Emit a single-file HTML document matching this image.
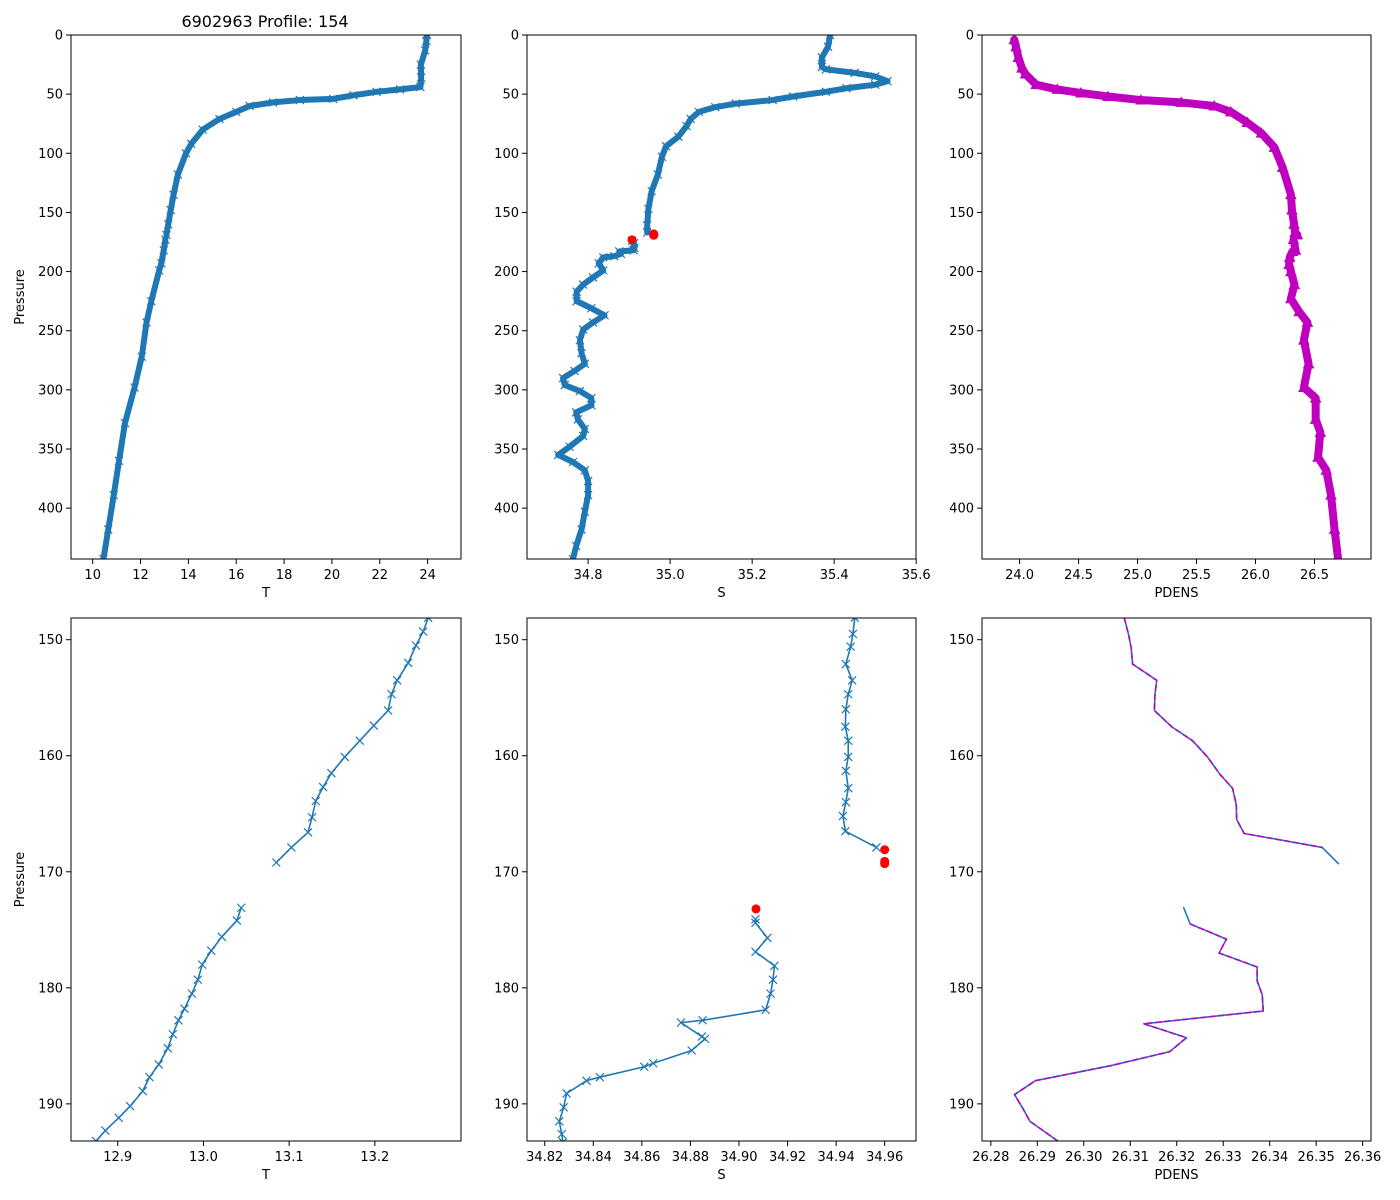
<!DOCTYPE html>
<html><head><meta charset="utf-8"><style>
html,body{margin:0;padding:0;background:#fff;}
svg{display:block;font-family:"DejaVu Sans","Liberation Sans",sans-serif;}
</style></head><body>
<svg id="chart" width="1400" height="1200" viewBox="0 0 1400 1200" xmlns="http://www.w3.org/2000/svg">
<rect width="1400" height="1200" fill="#fff"/>
<text x="265" y="27" font-size="16" text-anchor="middle">6902963 Profile: 154</text>
</svg>
<script>
// ---- top row data ----
const topTPres = [0,5,13,25,36,44,46,48,51,54,55,57,60,65,71,80,92,100,118,135,148,160,169,null,173,182,193,199,225,243,272,298,328,360,389,418,443];
const topTVals = [23.97,23.95,23.9,23.72,23.73,23.7,22.85,21.87,20.9,20.05,18.66,17.54,16.56,16.0,15.3,14.6,14.12,13.9,13.56,13.38,13.26,13.16,13.08,null,13.04,12.97,12.87,12.78,12.45,12.25,12.05,11.75,11.35,11.1,10.88,10.65,10.45];
const topSPres = [0,10,19,27,29,32,35,39,42,45,48,52,55,58,61,65,71,77,86,94,103,118,132,147,161,167,null,174,176,180,182,183,185,187,188,193,199,205,211,217,225,231,237,243,249,258,269,278,284,290,296,301,307,313,319,325,333,339,348,355,361,368,377,389,403,418,432,443];
const topSVals = [35.39,35.385,35.37,35.37,35.38,35.45,35.50,35.53,35.50,35.43,35.38,35.30,35.25,35.16,35.11,35.07,35.05,35.04,35.02,34.99,34.98,34.97,34.955,34.947,34.944,34.944,null,34.907,34.912,34.913,34.911,34.876,34.88,34.864,34.837,34.826,34.837,34.812,34.788,34.772,34.772,34.808,34.84,34.812,34.788,34.78,34.784,34.792,34.767,34.739,34.743,34.78,34.808,34.808,34.771,34.775,34.792,34.788,34.755,34.727,34.763,34.792,34.80,34.80,34.792,34.784,34.771,34.763];
const topDPres = [4,10,19,28,33,42,46,49,52,55,57,60,65,74,83,95,112,135,148,160,167,169,null,173,182,183,188,194,200,211,223,234,243,258,278,298,307,325,336,357,368,389,418,443];
const topDVals = [23.955,23.97,23.99,24.02,24.05,24.14,24.32,24.52,24.75,25.03,25.37,25.65,25.79,25.93,26.05,26.16,26.23,26.30,26.309,26.327,26.335,26.355,null,26.322,26.339,26.313,26.29,26.285,26.30,26.33,26.30,26.37,26.44,26.41,26.45,26.41,26.51,26.51,26.55,26.53,26.60,26.64,26.67,26.70];
const redSPres = [168.1,169.1,169.3,173.2];
const redSVals = [34.96,34.96,34.96,34.907];
// ---- bottom row data ----
const botTPres = [148.1,149.3,150.5,152.0,153.5,154.7,156.1,157.4,158.7,160.1,161.5,162.7,163.9,165.3,166.6,167.9,169.2,null,173.1,174.2,175.6,176.8,178.0,179.3,180.5,181.8,182.8,184.0,185.2,186.6,187.7,188.9,190.2,191.2,192.3,193.2];
const botTVals = [13.2623,13.2564,13.2479,13.2389,13.226,13.2194,13.2155,13.1988,13.1824,13.1649,13.1493,13.1396,13.131,13.1267,13.122,13.1026,13.085,null,13.0441,13.039,13.0215,13.0091,12.9986,12.9935,12.9865,12.9779,12.9709,12.9643,12.9584,12.9479,12.937,12.9292,12.9144,12.9012,12.8856,12.8747];
const botSPres = [148.1,149.5,150.6,152.1,153.5,154.7,156.0,157.5,158.7,160.1,161.3,162.8,164.0,165.2,166.5,167.9,null,174.1,174.4,175.7,176.9,178.1,179.3,180.5,181.9,182.8,183.0,184.2,184.4,185.4,186.5,186.8,187.7,188.0,189.1,190.3,191.5,192.6,193.3];
const botSVals = [34.9477,34.9469,34.946,34.944,34.9466,34.945,34.944,34.9438,34.945,34.945,34.944,34.945,34.944,34.9428,34.9438,34.9566,null,34.9068,34.9068,34.9117,34.9068,34.9146,34.914,34.913,34.911,34.885,34.8761,34.8847,34.886,34.8805,34.8647,34.861,34.8427,34.8372,34.829,34.8278,34.826,34.827,34.8275];
const botDPres = [148.1,149.5,150.7,152.1,153.5,154.8,156.1,157.5,158.7,160.1,161.6,162.8,164.2,165.5,166.7,167.9,169.3,null,173.1,174.5,175.8,177.0,178.2,179.4,180.6,182.0,183.1,184.3,185.5,186.7,188.0,189.2,190.4,191.5,193.2];
const botDVals = [26.3087,26.3096,26.3102,26.3105,26.3157,26.3153,26.3152,26.3189,26.3234,26.3266,26.3293,26.332,26.3328,26.3329,26.3345,26.3513,26.3548,null,26.3215,26.3229,26.3307,26.3291,26.3373,26.3373,26.3384,26.3386,26.3129,26.3221,26.3185,26.3059,26.2896,26.2851,26.2869,26.2884,26.2944];
const botRedPres = [168.1,169.1,169.3,173.2];
const botRedVals = [34.96,34.96,34.96,34.907];
// tick labels
const topTTicks = [10,12,14,16,18,20,22,24];
const topSTicks = ["34.8","35.0","35.2","35.4","35.6"];
const topDTicks = ["24.0","24.5","25.0","25.5","26.0","26.5"];
const topPTicks = [0,50,100,150,200,250,300,350,400];
const botTTicks = ["12.9","13.0","13.1","13.2"];
const botSTicks = ["34.82","34.84","34.86","34.88","34.90","34.92","34.94","34.96"];
const botDTicks = ["26.28","26.29","26.30","26.31","26.32","26.33","26.34","26.35","26.36"];
const botPTicks = [150,160,170,180,190];

const NS="http://www.w3.org/2000/svg";
const svg=document.getElementById('chart');
const BLUE="#1f77b4", MAG="#bf00bf";
function el(tag,attrs,parent){const e=document.createElementNS(NS,tag);for(const k in attrs)e.setAttribute(k,attrs[k]);(parent||svg).appendChild(e);return e;}

function makeAxes(name,box,xr,yr,xt,yt,xlabel,ylabel){
  const g=el('g',{});
  
  
  const sx=v=>box.x+(v-xr[0])/(xr[1]-xr[0])*box.w;
  const sy=v=>box.y+(v-yr[0])/(yr[1]-yr[0])*box.h;
  xt.forEach(t=>{const v=parseFloat(t);const x=sx(v);
    const tk=el('line',{x1:x,x2:x,y1:box.y+box.h,y2:box.y+box.h+5,stroke:'#000','stroke-width':1},g);
    
    
    const tx=el('text',{x:x,y:box.y+box.h+20,'font-size':13,'text-anchor':'middle'},g);tx.textContent=String(t);
    
    });
  yt.forEach(t=>{const y=sy(t);
    const tk=el('line',{x1:box.x-5,x2:box.x,y1:y,y2:y,stroke:'#000','stroke-width':1},g);
    
    
    const tx=el('text',{x:box.x-8,y:y+4.5,'font-size':13,'text-anchor':'end'},g);tx.textContent=String(t);
    
    });
  const xl=el('text',{x:box.x+box.w/2,y:box.y+box.h+38,'font-size':13,'text-anchor':'middle'},g);xl.textContent=xlabel;
  
  
  if(ylabel){const yl=el('text',{x:0,y:0,'font-size':13,'text-anchor':'middle',transform:`translate(${box.x-47},${box.y+box.h/2}) rotate(-90)`},g);yl.textContent=ylabel;
    
    }
  const clipId=name+'-clip';
  const cp=el('clipPath',{id:clipId},g);el('rect',{x:box.x,y:box.y,width:box.w,height:box.h},cp);
  const plot=el('g',{'clip-path':`url(#${clipId})`},g);
  
  
  const fr=el('rect',{x:box.x,y:box.y,width:box.w,height:box.h,fill:'none',stroke:'#000','stroke-width':1},g);
  
  
  return {sx,sy,plot};
}
function pathFrom(ax,vals,pres,skip){
  let d='',pen=false;
  for(let i=0;i<vals.length;i++){
    if(vals[i]===null||pres[i]===null||(skip&&skip.includes(i))){pen=false;continue;}
    const x=ax.sx(vals[i]),y=ax.sy(pres[i]);d+=(pen?'L':'M')+x.toFixed(2)+' '+y.toFixed(2)+' ';pen=true;}
  return d;
}
function line(ax,vals,pres,attrs,name,skip){
  const p=el('path',Object.assign({d:pathFrom(ax,vals,pres,skip),fill:'none','stroke-linejoin':'round','stroke-linecap':'round'},attrs),ax.plot);
  
  
}
function xMarks(ax,vals,pres,s,sw,name){
  let d='';
  for(let i=0;i<vals.length;i++){if(vals[i]===null)continue;const x=ax.sx(vals[i]),y=ax.sy(pres[i]);
    d+=`M${x-s} ${y-s}L${x+s} ${y+s}M${x-s} ${y+s}L${x+s} ${y-s}`;}
  const p=el('path',{d:d,stroke:BLUE,'stroke-width':sw,fill:'none'},ax.plot);
  
  
}
function triMarks(ax,vals,pres,s,name){
  let d='';
  for(let i=0;i<vals.length;i++){if(vals[i]===null)continue;const x=ax.sx(vals[i]),y=ax.sy(pres[i]);
    d+=`M${x} ${y-s}L${x+s} ${y+s*0.8}L${x-s} ${y+s*0.8}Z`;}
  const p=el('path',{d:d,fill:MAG,stroke:MAG,'stroke-width':1},ax.plot);
  
  
}
function redDots(ax,vals,pres,r,name){
  for(let i=0;i<vals.length;i++){const c=el('circle',{cx:ax.sx(vals[i]),cy:ax.sy(pres[i]),r:r,fill:'#ff0000'},ax.plot);
    
    }
}

const topY={y:35,h:524}, botY={y:618,h:523};
const colX=[{x:71,w:390},{x:527,w:389},{x:982,w:389}];
const topP=[0,443], botP=[148.13,193.2];

// top row
const a1=makeAxes('temperature-panel',{x:colX[0].x,w:colX[0].w,y:topY.y,h:topY.h},[9.093,25.396],topP,topTTicks,topPTicks,'T','Pressure');
line(a1,topTVals,topTPres,{stroke:BLUE,'stroke-width':6},'temperature-band');
xMarks(a1,topTVals,topTPres,4,1.2,'temperature-markers');
const a2=makeAxes('salinity-panel',{x:colX[1].x,w:colX[1].w,y:topY.y,h:topY.h},[34.651,35.5995],topP,topSTicks,topPTicks,'S',null);
line(a2,topSVals,topSPres,{stroke:BLUE,'stroke-width':6},'salinity-band');
xMarks(a2,topSVals,topSPres,4,1.2,'salinity-markers');
redDots(a2,redSVals,redSPres,4.5,'salinity-flagged-point');
const a3=makeAxes('density-panel',{x:colX[2].x,w:colX[2].w,y:topY.y,h:topY.h},[23.6815,26.979],topP,topDTicks,topPTicks,'PDENS',null);
line(a3,topDVals,topDPres,{stroke:MAG,'stroke-width':8},'density-band');
triMarks(a3,topDVals,topDPres,5,'density-markers');

// bottom row
const b1=makeAxes('temperature-zoom-panel',{x:colX[0].x,w:colX[0].w,y:botY.y,h:botY.h},[12.8455,13.3005],botP,botTTicks,botPTicks,'T','Pressure');
line(b1,botTVals,botTPres,{stroke:BLUE,'stroke-width':1.6},'temperature-zoom-line');
xMarks(b1,botTVals,botTPres,4,1.2,'temperature-zoom-markers');
const b2=makeAxes('salinity-zoom-panel',{x:colX[1].x,w:colX[1].w,y:botY.y,h:botY.h},[34.8127,34.9729],botP,botSTicks,botPTicks,'S',null);
line(b2,botSVals,botSPres,{stroke:BLUE,'stroke-width':1.6},'salinity-zoom-line');
xMarks(b2,botSVals,botSPres,4,1.2,'salinity-zoom-markers');
redDots(b2,botRedVals,botRedPres,4.5,'salinity-zoom-flagged-point');
const b3=makeAxes('density-zoom-panel',{x:colX[2].x,w:colX[2].w,y:botY.y,h:botY.h},[26.2781,26.3618],botP,botDTicks,botPTicks,'PDENS',null);
line(b3,botDVals,botDPres,{stroke:BLUE,'stroke-width':1.6},'density-zoom-line');
line(b3,botDVals,botDPres,{stroke:MAG,'stroke-width':1.6,'stroke-dasharray':'6 3','stroke-linecap':'butt'},'density-zoom-dashed-line',[16,18]);
</script>
</body></html>
